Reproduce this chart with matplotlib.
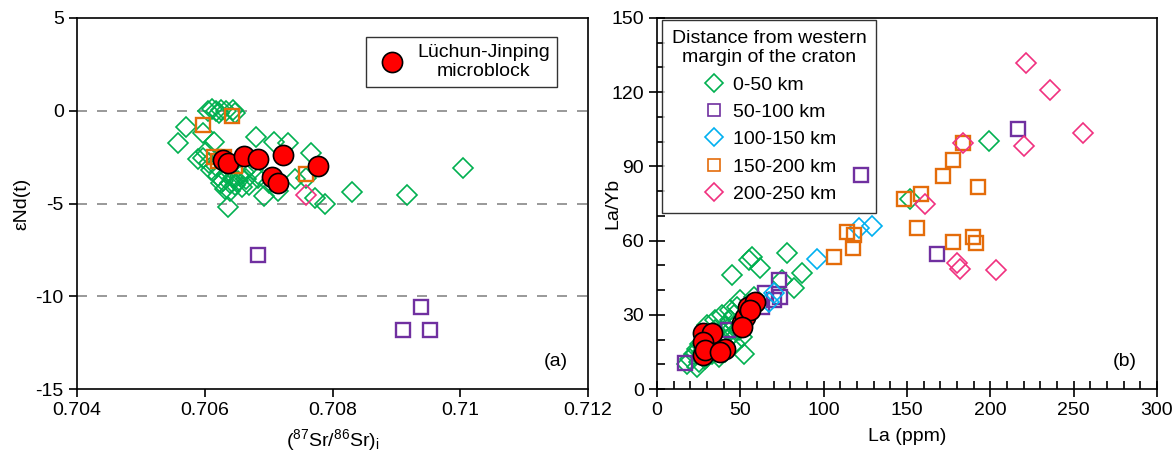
import matplotlib
matplotlib.use("Agg")
import matplotlib.pyplot as plt
from matplotlib.lines import Line2D
from matplotlib.ticker import MultipleLocator

plt.rcParams['font.family'] = ['Liberation Sans', 'DejaVu Sans']
plt.rcParams['mathtext.fontset'] = 'custom'
plt.rcParams['mathtext.rm'] = 'Liberation Sans'
plt.rcParams['mathtext.it'] = 'Liberation Sans:italic'
plt.rcParams['axes.unicode_minus'] = False

GREEN = '#00B050'
PURPLE = '#7030A0'
CYAN = '#00B0F0'
ORANGE = '#E46C0A'
PINK = '#F0307F'

# ---------------- Panel (a) data: (87Sr/86Sr)i vs eNd(t) ----------------
a_green_x = [0.70605, 0.70612, 0.70618, 0.70622, 0.70626, 0.70633, 0.70645, 0.70648,
             0.70570, 0.70558, 0.70598, 0.70614, 0.70590, 0.70602, 0.70680, 0.70708,
             0.70731, 0.70766, 0.70758, 0.70789, 0.70831, 0.70636, 0.70692, 0.70598,
             0.70607, 0.70917, 0.71005, 0.70742, 0.70772, 0.70683, 0.70610, 0.70620,
             0.70628, 0.70635, 0.70640, 0.70645, 0.70652, 0.70658, 0.70664, 0.70670,
             0.70625, 0.70632, 0.70640, 0.70648, 0.70655, 0.70662, 0.70618, 0.70675,
             0.70700, 0.70715]
a_green_y = [0.0, 0.1, 0.0, -0.1, 0.05, 0.0, 0.05, -0.1,
             -0.87, -1.74, -1.2, -1.7, -2.6, -2.2, -1.4, -1.7,
             -1.75, -2.27, -3.6, -5.0, -4.4, -5.2, -4.6, -2.55,
             -2.8, -4.55, -3.1, -3.7, -4.7, -3.6, -3.2, -3.5,
             -3.8, -3.4, -3.9, -3.6, -3.8, -4.1, -3.7, -4.0,
             -3.9, -4.2, -4.3, -4.0, -3.5, -3.3, -3.0, -3.2,
             -3.9, -4.3]
a_purple_x = [0.70684, 0.70938, 0.70911, 0.70952]
a_purple_y = [-7.8, -10.6, -11.8, -11.8]
a_orange_x = [0.70598, 0.70642, 0.70614, 0.70630, 0.70648, 0.70758, 0.70620]
a_orange_y = [-0.77, -0.28, -2.5, -2.5, -3.0, -3.4, -2.7]
a_pink_x = [0.70759]
a_pink_y = [-4.55]
a_red_x = [0.70628, 0.70636, 0.70661, 0.70683, 0.70723, 0.70706, 0.70714, 0.70777]
a_red_y = [-2.65, -2.8, -2.45, -2.6, -2.4, -3.55, -3.9, -3.0]

# ---------------- Panel (b) data: La vs La/Yb ----------------
b_green_x = [45, 55, 57, 62, 78, 87, 82, 75, 199, 152,
             18, 20, 22, 24, 25, 26, 27, 28, 30, 31, 32, 33, 34, 35, 36, 38,
             40, 41, 42, 43, 44, 45, 46, 47, 48, 49, 50, 52, 53, 55, 56, 58,
             24, 29, 37, 41, 47, 51, 30, 35, 39, 44]
b_green_y = [46, 52, 53.4, 49, 55, 47, 41, 44, 100.3, 76.8,
             10, 12, 14, 16, 11, 18, 15, 20, 13, 17, 22, 14, 19, 24, 16, 21,
             18, 25, 20, 23, 28, 22, 30, 26, 33, 24, 36, 14, 29, 34, 31, 37,
             9, 12, 13, 15, 18, 21, 26, 28, 30, 32]
b_purple_x = [16.8, 42.6, 122.4, 216.5, 168, 73, 74, 65, 63, 70]
b_purple_y = [10.5, 23.9, 86.5, 105, 54.6, 44, 37, 39, 33, 36]
b_cyan_x = [96, 70, 67, 121, 129]
b_cyan_y = [52.6, 39, 35, 65, 66]
b_orange_x = [106, 183.5, 177.6, 171.6, 192.6, 148, 158.4, 114, 118, 117.6,
              156, 177.6, 189.6, 191.4]
b_orange_y = [53.4, 99.5, 92.6, 86, 81.7, 76.8, 78.8, 63.5, 62.3, 57,
              65, 59.4, 61.5, 59]
b_pink_x = [183.5, 160.8, 180, 182, 203.4, 221.4, 235.8, 220, 255.6]
b_pink_y = [99.5, 74.8, 51, 48.5, 48.1, 131.8, 120.9, 98.3, 103.5]
b_red_x = [27.6, 33, 27.6, 27.6, 28.8, 40.8, 37.8, 51, 52.8, 54.6, 58.8, 55.8, 51]
b_red_y = [22.6, 22.6, 19, 13.7, 15.8, 16.2, 15, 26.7, 29, 33.2, 35.2, 32, 25]

legend_a_label = 'Lüchun-Jinping\nmicroblock'
legend_b_title = 'Distance from western\nmargin of the craton'
legend_b_labels = ['0-50 km', '50-100 km', '100-150 km', '150-200 km', '200-250 km']

fig = plt.figure(figsize=(11.74, 4.62), dpi=100)
axA = fig.add_axes([77/1174, 73/462, 511/1174, 371/462])
axB = fig.add_axes([657/1174, 73/462, 500/1174, 371/462])

DMS = 10.5  # diamond size
SMS = 10    # square size
RMS = 14.5  # red circle size
LW = 1.2

def dia(ax, x, y, c):
    ax.plot(x, y, 'D', ls='none', ms=DMS, mfc='none', mec=c, mew=LW, zorder=3)

def sq(ax, x, y, c):
    ax.plot(x, y, 's', ls='none', ms=SMS, mfc='none', mec=c, mew=LW + 0.5, zorder=3)

# Panel a
for yv in [0, -5, -10]:
    axA.axhline(yv, color='#888888', lw=1.2, ls=(0, (6, 6)), zorder=0)
dia(axA, a_green_x, a_green_y, GREEN)
sq(axA, a_purple_x, a_purple_y, PURPLE)
sq(axA, a_orange_x, a_orange_y, ORANGE)
dia(axA, a_pink_x, a_pink_y, PINK)
axA.plot(a_red_x, a_red_y, 'o', ls='none', ms=RMS, mfc='#FF0000', mec='black', mew=1.2, zorder=4)

axA.set_xlim(0.704, 0.712)
axA.set_ylim(-15, 5)
axA.set_xticks([0.704, 0.706, 0.708, 0.710, 0.712])
axA.set_xticklabels(['0.704', '0.706', '0.708', '0.71', '0.712'])
axA.set_yticks([5, 0, -5, -10, -15])
axA.tick_params(direction='out', labelsize=14, length=6, width=1.2)
axA.set_xlabel(r'$(^{87}\mathrm{Sr}/^{86}\mathrm{Sr})_\mathrm{i}$', fontsize=14, labelpad=6)
axA.set_ylabel('εNd(t)', fontsize=14)
axA.text(0.96, 0.05, '(a)', transform=axA.transAxes, fontsize=14, ha='right', va='bottom')
hA = [Line2D([], [], marker='o', ls='none', ms=RMS, mfc='#FF0000', mec='black', mew=1.2)]
legA = axA.legend(hA, [legend_a_label], loc='upper right', fontsize=14, frameon=True,
                  fancybox=False, edgecolor='black', handletextpad=0.3,
                  borderpad=0.35, borderaxespad=0, bbox_to_anchor=(0.939, 0.949))
legA.get_frame().set_linewidth(1.0)
legA.set_zorder(5)
for t in legA.get_texts():
    t.set_multialignment('center')

# Panel b
dia(axB, b_green_x, b_green_y, GREEN)
sq(axB, b_purple_x, b_purple_y, PURPLE)
dia(axB, b_cyan_x, b_cyan_y, CYAN)
sq(axB, b_orange_x, b_orange_y, ORANGE)
dia(axB, b_pink_x, b_pink_y, PINK)
axB.plot(b_red_x, b_red_y, 'o', ls='none', ms=RMS, mfc='#FF0000', mec='black', mew=1.2, zorder=4)

axB.set_xlim(0, 300)
axB.set_ylim(0, 150)
axB.xaxis.set_major_locator(MultipleLocator(50))
axB.xaxis.set_minor_locator(MultipleLocator(10))
axB.yaxis.set_major_locator(MultipleLocator(30))
axB.yaxis.set_minor_locator(MultipleLocator(10))
axB.tick_params(which='major', direction='inout', labelsize=14, length=12, width=1.2)
axB.tick_params(which='minor', direction='in', length=6, width=1.2)
axB.set_xlabel('La (ppm)', fontsize=14, labelpad=6)
axB.set_ylabel('La/Yb', fontsize=14)
axB.yaxis.set_label_coords(-0.072, 0.5)
axB.text(0.96, 0.05, '(b)', transform=axB.transAxes, fontsize=14, ha='right', va='bottom')

hB = [Line2D([], [], marker='D', ls='none', ms=DMS * 0.85, mfc='none', mec=GREEN, mew=LW),
      Line2D([], [], marker='s', ls='none', ms=SMS * 0.9, mfc='none', mec=PURPLE, mew=LW),
      Line2D([], [], marker='D', ls='none', ms=DMS * 0.85, mfc='none', mec=CYAN, mew=LW),
      Line2D([], [], marker='s', ls='none', ms=SMS * 0.9, mfc='none', mec=ORANGE, mew=LW),
      Line2D([], [], marker='D', ls='none', ms=DMS * 0.85, mfc='none', mec=PINK, mew=LW)]
legB = axB.legend(hB, legend_b_labels, title=legend_b_title, loc='upper left',
                  fontsize=14, title_fontsize=14, frameon=True, fancybox=False,
                  edgecolor='black', handletextpad=0.4, labelspacing=0.5,
                  handlelength=1.2, borderpad=0.5, borderaxespad=0,
                  bbox_to_anchor=(0.01, 0.995))
legB.get_frame().set_linewidth(1.0)
legB.get_title().set_multialignment('center')
legB.set_zorder(2.5)

for ax in (axA, axB):
    for s in ax.spines.values():
        s.set_linewidth(1.2)

fig.savefig('out.png', dpi=100)
